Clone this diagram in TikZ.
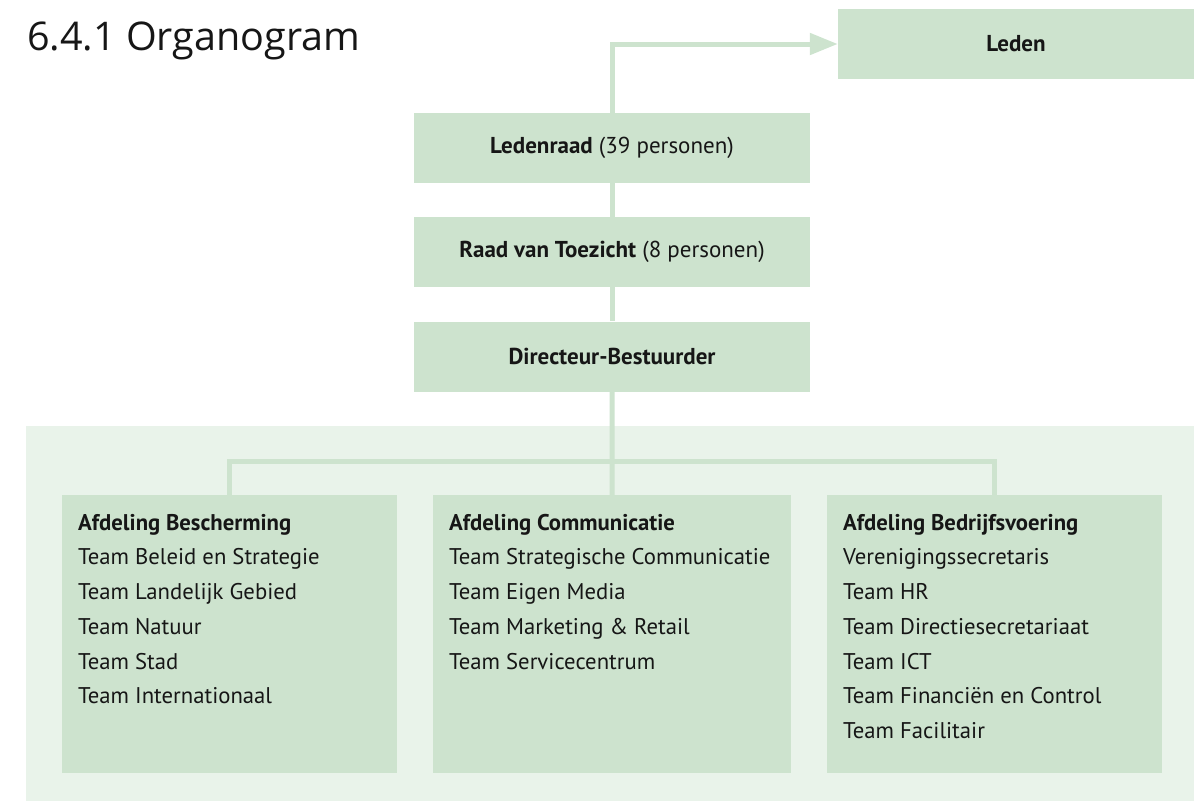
\documentclass[tikz,border=0pt]{standalone}
\usepackage{fontspec}
\setmainfont{PT Sans}
\newfontfamily\titlefont{Open Sans}
\usetikzlibrary{arrows.meta}

\definecolor{boxgreen}{RGB}{205,227,206}
\definecolor{panelgreen}{RGB}{233,243,234}
\definecolor{inkgrey}{RGB}{22,22,22}

\tikzset{
    topbox/.style={fill=boxgreen, minimum width=396pt, minimum height=70pt, inner sep=0pt,
        text=inkgrey, font=\fontsize{23}{27}\selectfont},
    deptbox/.style={fill=boxgreen, anchor=north west, inner xsep=16pt, inner ysep=0pt,
        text=inkgrey, font=\fontsize{22.7}{34.7}\selectfont},
    link/.style={draw=boxgreen, line width=5pt},
}

% list box of one department: width, name, teams
\newcommand{\deptlist}[3]{\parbox[t][278pt][t]{#1}{\rule{0pt}{35pt}\textbf{#2}\\#3}}

\begin{document}
\begin{tikzpicture}[x=1pt, y=-1pt]
        \useasboundingbox (0,0) rectangle (1194,801);

        \node[anchor=base west, inner sep=0pt, text=inkgrey, font=\titlefont\fontsize{39.5}{44}\selectfont] (title) at(27, 50){6.4.1 Organogram};

        \fill[panelgreen] (26, 426) rectangle (1194, 801);

        \node[topbox, minimum width=356pt] (leden) at(1016, 44){\textbf{Leden}};
        \node[topbox] (ledenraad) at(612, 148){\textbf{Ledenraad} (39 personen)};
        \node[topbox] (raad) at(612, 252){\textbf{Raad van Toezicht} (8 personen)};
        \node[topbox] (directeur) at(612, 356.5){\textbf{Directeur-Bestuurder}};

        \node[deptbox] (afdBesch) at(62, 495){\deptlist{303pt}{Afdeling Bescherming}{Team Beleid en Strategie\\Team Landelijk Gebied\\Team Natuur\\Team Stad\\Team Internationaal}};
        \node[deptbox] (afdComm) at(433, 495){\deptlist{326pt}{Afdeling Communicatie}{Team Strategische Communicatie\\Team Eigen Media\\Team Marketing \& Retail\\Team Servicecentrum}};
        \node[deptbox] (afdBedr) at(827, 495){\deptlist{303pt}{Afdeling Bedrijfsvoering}{Verenigingssecretaris\\Team HR\\Team Directiesecretariaat\\Team ICT\\Team Financiën en Control\\Team Facilitair}};

        \draw[link, -{Triangle[length=28pt, width=21pt]}] (ledenraad.north) |- (leden.west);
        \draw[link] (ledenraad.south) to (raad.north);
        \draw[link] (raad.south) to (directeur.north);
        \draw[link] (directeur.south) to (afdComm.north);

        \coordinate (hub) at(612, 461);
        \draw[link] (afdBesch.north) |- (hub) -| (afdBedr.north);

    \end{tikzpicture}
\end{document}
